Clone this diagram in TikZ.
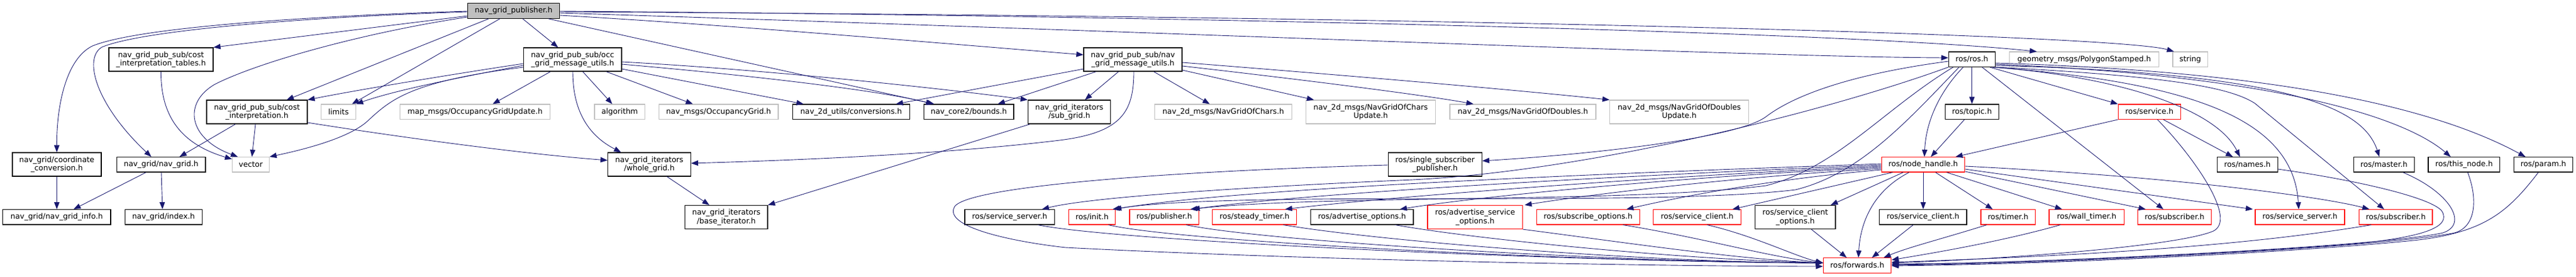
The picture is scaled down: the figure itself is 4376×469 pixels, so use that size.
\documentclass[tikz,border=0pt]{standalone}
\usepackage{fontspec}
\setmainfont{DejaVu Sans}
\usetikzlibrary{arrows.meta}
\definecolor{edgec}{HTML}{191970}
\definecolor{grayb}{HTML}{BFBFBF}
\definecolor{redb}{HTML}{FF0000}
\definecolor{rootf}{HTML}{BFBFBF}
\begin{document}
\begin{tikzpicture}[x=1pt,y=-1pt,
  box/.style={draw=black, fill=white, line width=1.2pt, inner sep=0pt, align=center, font=\fontsize{12.8}{14.3}\selectfont, text=black},
  gbox/.style={box, draw=grayb},
  rbox/.style={box, draw=redb},
  sz/.style 2 args={minimum width=#1pt, minimum height=#2pt},
  e/.style={draw=edgec, line width=0.9pt, -{Triangle[length=12pt,width=9pt]}},
]
\useasboundingbox (0,0) rectangle (4376,469);
% nodes
\node[box, sz={156.4}{25.6}, fill=rootf] (pub) at (872.5,18.5) {nav\_grid\_publisher.h};
\node[box, sz={177}{40}] (tables) at (273.5,101) {nav\_grid\_pub\_sub/cost\\\_interpretation\_tables.h};
\node[box, sz={166.7}{40}] (occ) at (972.7,101) {nav\_grid\_pub\_sub/occ\\\_grid\_message\_utils.h};
\node[box, sz={167}{40}] (navmsg) at (1924.5,101) {nav\_grid\_pub\_sub/nav\\\_grid\_message\_utils.h};
\node[box, sz={79}{25.3}] (ros) at (3349.8,100.7) {ros/ros.h};
\node[gbox, sz={253.6}{25.3}] (geom) at (3540.5,100.7) {geometry\_msgs/PolygonStamped.h};
\node[gbox, sz={59.3}{25.3}] (string) at (3720.7,100.7) {string};
\node[box, sz={171}{40}] (costi) at (436.5,190) {nav\_grid\_pub\_sub/cost\\\_interpretation.h};
\node[gbox, sz={58.6}{25.3}] (limits) at (575,189.7) {limits};
\node[gbox, sz={254.6}{25.3}] (mapmsgs) at (807,189.7) {map\_msgs/OccupancyGridUpdate.h};
\node[gbox, sz={85.3}{25.3}] (algorithm) at (1052.7,189.7) {algorithm};
\node[gbox, sz={202.7}{25.3}] (navmsgs) at (1220.7,189.7) {nav\_msgs/OccupancyGrid.h};
\node[box, sz={199}{25.3}] (conv) at (1445.8,189.7) {nav\_2d\_utils/conversions.h};
\node[box, sz={152.3}{25.3}] (bounds) at (1645.8,189.7) {nav\_core2/bounds.h};
\node[box, sz={140.4}{40}] (subgrid) at (1816.5,190) {nav\_grid\_iterators\\/sub\_grid.h};
\node[gbox, sz={232.6}{25.3}] (ngchars) at (2078,189.7) {nav\_2d\_msgs/NavGridOfChars.h};
\node[gbox, sz={220.4}{40}] (ngcharsupd) at (2328.5,190) {nav\_2d\_msgs/NavGridOfChars\\Update.h};
\node[gbox, sz={248}{25.3}] (ngdoubles) at (2587,189.7) {nav\_2d\_msgs/NavGridOfDoubles.h};
\node[gbox, sz={236}{40}] (ngdoublesupd) at (2852.7,190) {nav\_2d\_msgs/NavGridOfDoubles\\Update.h};
\node[box, sz={91}{25.3}] (topic) at (3349.8,189.7) {ros/topic.h};
\node[rbox, sz={106}{25.3}] (service) at (3651.3,189.7) {ros/service.h};
\node[box, sz={151}{40}] (coordconv) at (96.5,279) {nav\_grid/coordinate\\\_conversion.h};
\node[box, sz={150.7}{25.3}] (navgrid) at (273.7,279.3) {nav\_grid/nav\_grid.h};
\node[gbox, sz={62.6}{25.3}] (vector) at (426,279.3) {vector};
\node[box, sz={140.6}{40}] (wholegrid) at (1103,279) {nav\_grid\_iterators\\/whole\_grid.h};
\node[box, sz={159}{40}] (ssp) at (2437.8,279) {ros/single\_subscriber\\\_publisher.h};
\node[rbox, sz={141.4}{25.3}] (nh) at (3267,279.3) {ros/node\_handle.h};
\node[box, sz={103}{25.3}] (names) at (3817.8,279.3) {ros/names.h};
\node[box, sz={103}{25.3}] (master) at (4049.8,279.3) {ros/master.h};
\node[box, sz={121.7}{25.3}] (thisnode) at (4185.8,279.3) {ros/this\_node.h};
\node[box, sz={100.4}{25.3}] (param) at (4320.5,279.3) {ros/param.h};
\node[box, sz={183.3}{25.3}] (navgridinfo) at (96.3,368.3) {nav\_grid/nav\_grid\_info.h};
\node[box, sz={131}{25.3}] (index) at (277.8,368.3) {nav\_grid/index.h};
\node[box, sz={140.3}{40}] (baseiter) at (1233.8,368.5) {nav\_grid\_iterators\\/base\_iterator.h};
\node[box, sz={152.3}{25.3}] (ssb) at (1715.2,368.3) {ros/service\_server.h};
\node[rbox, sz={79}{25.3}] (init) at (1855.2,368.3) {ros/init.h};
\node[rbox, sz={117.7}{25.3}] (publisher) at (1977.8,368.3) {ros/publisher.h};
\node[rbox, sz={143}{25.3}] (steady) at (2131.2,368.3) {ros/steady\_timer.h};
\node[box, sz={174.3}{25.3}] (advopt) at (2313.8,368.3) {ros/advertise\_options.h};
\node[rbox, sz={161.7}{40}] (advsrv) at (2505.8,368.5) {ros/advertise\_service\\\_options.h};
\node[rbox, sz={175}{25.3}] (subopt) at (2697.8,368.3) {ros/subscribe\_options.h};
\node[rbox, sz={148.6}{25.3}] (scr) at (2883,368.3) {ros/service\_client.h};
\node[box, sz={136.3}{40}] (scopt) at (3049.8,368.5) {ros/service\_client\\\_options.h};
\node[box, sz={148.3}{25.3}] (scb) at (3266.8,368.3) {ros/service\_client.h};
\node[rbox, sz={92.3}{25.3}] (timer) at (3411.2,368.3) {ros/timer.h};
\node[rbox, sz={127.3}{25.3}] (walltimer) at (3544.7,368.3) {ros/wall\_timer.h};
\node[rbox, sz={124.6}{25.3}] (sub1) at (3694,368.3) {ros/subscriber.h};
\node[rbox, sz={152}{25.3}] (ssr) at (3907,368.3) {ros/service\_server.h};
\node[rbox, sz={124.3}{25.3}] (sub2) at (4069.8,368.3) {ros/subscriber.h};
\node[rbox, sz={115.4}{25.6}] (fwd) at (3155,450.5) {ros/forwards.h};
% pub edges
\draw[e] (pub.west |- 0,27) -- (tables.north east);
\draw[e] (pub.west |- 0,19) .. controls (500,28) and (230,48) .. (157,78) .. controls (112,100) and (96,180) .. (coordconv.north);
\draw[e] (pub.west |- 0,20) .. controls (500,30) and (240,52) .. (173,80) .. controls (140,100) and (165,180) .. (navgrid.north -| 257,0);
\draw[e] (pub.south -| 830,0) -- (costi.north -| 487,0);
\draw[e] (pub.south -| 849,0) -- (limits.north -| 598,0);
\draw[e] (pub.west |- 0,29) .. controls (620,55) and (440,105) .. (365,143) .. controls (310,175) and (320,235) .. (vector.north -| 404,0);
\draw[e] (pub.south -| 888,0) -- (occ.north -| 948,0);
\draw[e] (pub.east |- 0,26) .. controls (1200,40) and (1500,65) .. (navmsg.west |- 0,93);
\draw[e] (pub.south -| 932,0) -- (bounds.north -| 1587,0);
\draw[e] (pub.east |- 0,22) .. controls (2000,55) and (3000,97) .. (ros.west |- 0,98);
\draw[e] (pub.east |- 0,19) .. controls (1800,25) and (3100,50) .. (geom.north -| 3460,0);
\draw[e] (pub.east |- 0,20) .. controls (2500,28) and (3600,60) .. (string.north -| 3693,0);
% occ edges
\draw[e] (occ.west |- 0,108) .. controls (820,118) and (620,150) .. (costi.north east);
\draw[e] (occ.west |- 0,111) .. controls (820,124) and (680,150) .. (limits.north east);
\draw[e] (occ.west |- 0,114) .. controls (700,138) and (665,168) .. (627,203) .. controls (595,235) and (510,255) .. (vector.north east);
\draw[e] (occ.south -| 935,0) -- (mapmsgs.north -| 837,0);
\draw[e] (occ.south -| 990,0) -- (algorithm.north -| 1040,0);
\draw[e] (occ.south -| 973,0) .. controls (973,175) and (990,225) .. (wholegrid.north -| 1055,0);
\draw[e] (occ.south -| 1030,0) -- (navmsgs.north -| 1177,0);
\draw[e] (occ.east |- 0,117) -- (conv.north -| 1365,0);
\draw[e] (occ.east |- 0,109) .. controls (1300,130) and (1500,155) .. (bounds.north -| 1585,0);
\draw[e] (occ.east |- 0,105) .. controls (1300,118) and (1600,150) .. (subgrid.north west);
% costi, tables, nav_grid
\draw[e] (costi.south -| 400,0) -- (navgrid.north -| 305,0);
\draw[e] (costi.south -| 434,0) -- (vector.north -| 428,0);
\draw[e] (costi.east |- 0,208) .. controls (700,236) and (900,262) .. (wholegrid.west |- 0,272);
\draw[e] (tables.south) .. controls (273,200) and (310,245) .. (vector.west |- 0,270);
\draw[e] (navgrid.south -| 248,0) -- (navgridinfo.north -| 125,0);
\draw[e] (navgrid.south -| 274,0) -- (index.north -| 276,0);
\draw[e] (coordconv.south) -- (navgridinfo.north -| 96.5,0);
% navmsg edges
\draw[e] (navmsg.west |- 0,117) -- (conv.north -| 1522,0);
\draw[e] (navmsg.south -| 1862,0) -- (bounds.north -| 1695,0);
\draw[e] (navmsg.south -| 1900,0) -- (subgrid.north -| 1843,0);
\draw[e] (navmsg.south -| 1926,0) .. controls (1926,190) and (1905,225) .. (1800,238) .. controls (1600,262) and (1350,272) .. (wholegrid.east |- 0,277);
\draw[e] (navmsg.south -| 1960,0) -- (ngchars.north -| 2055,0);
\draw[e] (navmsg.east |- 0,119) -- (ngcharsupd.north -| 2232,0);
\draw[e] (navmsg.east |- 0,112) .. controls (2150,128) and (2400,158) .. (ngdoubles.north -| 2503,0);
\draw[e] (navmsg.east |- 0,106) .. controls (2250,125) and (2550,150) .. (ngdoublesupd.north west);
\draw[e] (subgrid.south -| 1750,0) -- (baseiter.north east);
\draw[e] (wholegrid.south -| 1133,0) -- (baseiter.north -| 1205,0);
% ros edges
\draw[e] (ros.south) -- (topic.north);
\draw[e] (ros.south -| 3335,0) .. controls (3300,150) and (3272,200) .. (nh.north -| 3269,0);
\draw[e] (topic.south -| 3337,0) -- (nh.north -| 3280,0);
\draw[e] (ros.south -| 3380,0) -- (service.north west);
\draw[e] (service.south west) -- (nh.north -| 3322,0);
\draw[e] (service.south -| 3675,0) -- (names.north -| 3793,0);
\draw[e] (service.south -| 3665,0) .. controls (3730,270) and (3800,372) .. (3760,392) .. controls (3700,418) and (3400,440) .. (fwd.east |- 0,446);
\draw[e] (ros.west |- 0,104) .. controls (3150,125) and (3050,160) .. (3000,198) .. controls (2950,235) and (2700,262) .. (ssp.east |- 0,273);
\draw[e] (ros.south west) .. controls (3100,190) and (2700,290) .. (2400,305) .. controls (2100,318) and (1850,335) .. (ssb.north -| 1770,0);
\draw[e] (ros.south -| 3318,0) .. controls (3200,185) and (3120,285) .. (3000,315) .. controls (2760,345) and (2250,330) .. (publisher.north -| 2022,0);
\draw[e] (ros.south -| 3328,0) .. controls (3240,205) and (3160,295) .. (3050,322) .. controls (2800,352) and (2100,322) .. (init.north -| 1890,0);
\draw[e] (ros.south -| 3367,0) -- (sub1.north -| 3675,0);
\draw[e] (ros.south -| 3384,0) .. controls (3600,130) and (3765,185) .. (names.north -| 3805,0);
\draw[e] (ros.south -| 3386,0) .. controls (3720,140) and (3895,200) .. (ssr.north -| 3905,0);
\draw[e] (ros.south east) .. controls (3700,130) and (3790,150) .. (3830,175) -- (sub2.north -| 4050,0);
\draw[e] (ros.east |- 0,111) .. controls (3900,125) and (4015,185) .. (master.north -| 4042,0);
\draw[e] (ros.east |- 0,109) .. controls (3850,128) and (4080,195) .. (thisnode.north -| 4163,0);
\draw[e] (ros.east |- 0,107) .. controls (3900,122) and (4150,190) .. (param.north -| 4290,0);
% node_handle edges
\draw[e] (nh.south) -- (scb.north -| 3267,0);
\draw[e] (nh.south -| 3288,0) -- (timer.north -| 3385,0);
\draw[e] (nh.south -| 3307,0) -- (walltimer.north -| 3503,0);
\draw[e] (nh.east |- 0,291) -- (sub1.north -| 3645,0);
\draw[e] (nh.east |- 0,287) -- (ssr.north -| 3827,0);
\draw[e] (nh.east |- 0,282) .. controls (3700,300) and (3950,335) .. (sub2.north -| 4025,0);
\draw[e] (nh.south -| 3243,0) .. controls (3180,325) and (3160,380) .. (fwd.north -| 3157,0);
\draw[e] (nh.south -| 3233,0) -- (scopt.north -| 3110,0);
\draw[e] (nh.south -| 3215,0) -- (scr.north -| 2943,0);
\draw[e] (nh.west |- 0,288) .. controls (3000,305) and (2850,335) .. (subopt.north -| 2763,0);
\draw[e] (nh.west |- 0,286) .. controls (2950,300) and (2700,330) .. (advsrv.north -| 2590,0);
\draw[e] (nh.west |- 0,284) .. controls (2850,300) and (2500,335) .. (advopt.north -| 2378,0);
\draw[e] (nh.west |- 0,282) .. controls (2800,300) and (2350,335) .. (steady.north -| 2183,0);
\draw[e] (nh.west |- 0,280) .. controls (2700,300) and (2200,330) .. (publisher.north -| 2026,0);
\draw[e] (nh.west |- 0,278) .. controls (2700,295) and (2100,320) .. (init.north -| 1893,0);
% into forwards
\draw[e] (ssb.south -| 1763,0) .. controls (1900,410) and (2700,445) .. (fwd.west |- 0,446);
\draw[e] (init.south -| 1883,0) .. controls (2000,410) and (2700,445) .. (fwd.west |- 0,446);
\draw[e] (publisher.south -| 2015,0) .. controls (2150,410) and (2750,445) .. (fwd.west |- 0,446);
\draw[e] (steady.south -| 2180,0) .. controls (2350,410) and (2800,445) .. (fwd.west |- 0,446);
\draw[e] (advopt.south -| 2370,0) .. controls (2500,405) and (2850,440) .. (fwd.west |- 0,446);
\draw[e] (advsrv.south -| 2587,0) .. controls (2750,410) and (2950,440) .. (fwd.west |- 0,446);
\draw[e] (subopt.south -| 2757,0) .. controls (2900,405) and (3000,435) .. (fwd.west |- 0,446);
\draw[e] (scr.south -| 2900,0) .. controls (2980,400) and (3050,435) .. (fwd.west |- 0,446);
\draw[e] (scopt.south -| 3077,0) -- (fwd.north -| 3137,0);
\draw[e] (scb.south -| 3250,0) -- (fwd.north -| 3180,0);
\draw[e] (timer.south -| 3375,0) .. controls (3300,405) and (3240,420) .. (fwd.north -| 3200,0);
\draw[e] (walltimer.south -| 3500,0) .. controls (3400,410) and (3280,430) .. (fwd.east |- 0,441);
\draw[e] (sub2.south -| 4028,0) .. controls (3800,420) and (3500,435) .. (fwd.east |- 0,445);
\draw[e] (names.east |- 0,287) .. controls (4000,305) and (4130,335) .. (4148,358) .. controls (4165,385) and (4120,405) .. (3960,417) .. controls (3700,435) and (3400,447) .. (fwd.east |- 0,448);
\draw[e] (master.south -| 4082,0) .. controls (4160,325) and (4195,380) .. (4150,395) .. controls (4050,418) and (3500,445) .. (fwd.east |- 0,449);
\draw[e] (thisnode.south -| 4192,0) .. controls (4210,340) and (4205,385) .. (4170,395) .. controls (4050,420) and (3500,447) .. (fwd.east |- 0,450);
\draw[e] (param.south -| 4312,0) .. controls (4260,360) and (4220,395) .. (4100,408) .. controls (3900,428) and (3500,448) .. (fwd.east |- 0,451);
\draw[e] (ssp.west |- 0,280) .. controls (2000,290) and (1650,315) .. (1622,350) .. controls (1600,385) and (1720,410) .. (1810,420) .. controls (2300,445) and (2900,452) .. (fwd.west |- 0,452);
\end{tikzpicture}
\end{document}
